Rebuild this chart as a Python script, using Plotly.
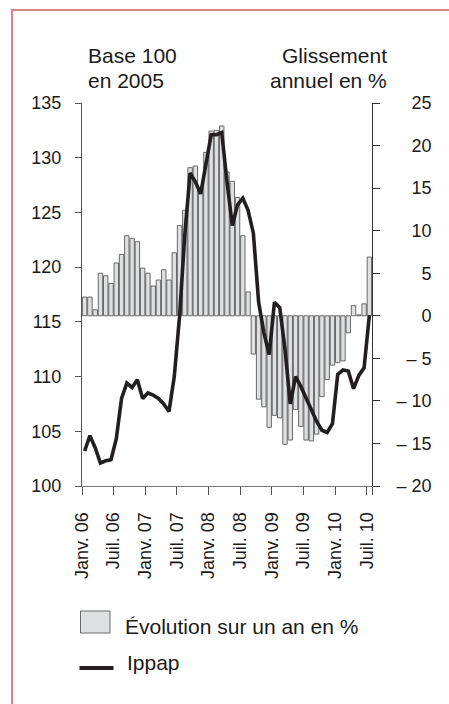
import plotly.graph_objects as go

# ---- data (monthly, Janv. 2006 -> Juil. 2010) ----
evolution = [2.2, 2.2, 0.7, 5.0, 4.7, 3.8, 6.2, 7.2, 9.4, 9.1, 8.7, 5.6,
             5.0, 3.5, 4.2, 5.4, 4.2, 7.4, 10.6, 12.4, 17.4, 17.6, 14.5, 19.2,
             21.7, 21.8, 22.3, 16.9, 15.8, 13.9, 9.4, 2.8, -4.5, -9.8, -10.7, -13.1,
             -11.7, -12.0, -15.1, -14.6, -11.0, -13.0, -14.6, -14.7, -13.9, -9.5, -7.5, -5.8,
             -5.5, -5.3, -2.0, 1.2, 0.1, 1.4, 6.9]
ippap = [103.2, 104.6, 103.5, 102.1, 102.3, 102.4, 104.3, 108.0, 109.4, 109.0, 109.7, 108.0,
         108.5, 108.3, 108.0, 107.5, 106.8, 110.0, 115.5, 123.0, 128.6, 127.8, 126.7, 129.4,
         132.1, 132.1, 132.3, 127.8, 123.8, 125.7, 126.3, 125.2, 123.1, 116.8, 114.0, 112.0,
         116.8, 116.3, 112.5, 107.5, 110.0, 109.1, 108.0, 106.9, 105.9, 105.1, 104.9, 105.7,
         110.2, 110.6, 110.5, 108.9, 110.1, 110.8, 115.6]
tick_labels = ["Janv. 06", "Juil. 06", "Janv. 07", "Juil. 07", "Janv. 08",
               "Juil. 08", "Janv. 09", "Juil. 09", "Janv. 10", "Juil. 10"]
left_ticks = [100, 105, 110, 115, 120, 125, 130, 135]
right_ticks = [-20, -15, -10, -5, 0, 5, 10, 15, 20, 25]
right_labels = ["\u2013 20", "\u2013 15", "\u2013 10", "\u2007\u2013 5",
                "\u2007\u00a0\u20070", "\u2007\u00a0\u20075",
                "\u2007\u00a010", "\u2007\u00a015", "\u2007\u00a020", "\u2007\u00a025"]
series_names = ["\u00c9volution sur un an en %", "Ippap"]

n = len(evolution)
xpos = [i + 0.5 for i in range(n)]

FONT = "Liberation Sans, Arial, sans-serif"
W, H = 449, 704
L, R, T, B = 82, 77, 103, 218
PW, PH = W - L - R, H - T - B


def px(xp):
    return (xp - L) / PW


def py(yp):
    return (H - B - yp) / PH


fig = go.Figure()
fig.add_trace(go.Bar(x=xpos, y=evolution, yaxis="y", width=0.84,
                     marker=dict(color="#dfe0e2", line=dict(color="#5a5a5a", width=0.9)),
                     name=series_names[0], showlegend=False))
fig.add_trace(go.Scatter(x=xpos, y=ippap, yaxis="y2", mode="lines",
                         line=dict(color="#231f20", width=3.6),
                         name=series_names[1], showlegend=False))

axis_font = dict(family=FONT, size=18, color="#1a1a1a")
fig.update_layout(
    width=W, height=H,
    margin=dict(l=L, r=R, t=T, b=B, pad=0),
    paper_bgcolor="white", plot_bgcolor="white",
    font=dict(family=FONT, color="#1a1a1a"),
    xaxis=dict(range=[0, n], tickmode="array",
               tickvals=[0, 6, 12, 18, 24, 30, 36, 42, 48, 54, 55],
               ticktext=tick_labels + [""], tickangle=-90,
               ticks="outside", ticklen=8, tickcolor="#555", tickwidth=1,
               showline=True, linecolor="#777", linewidth=1,
               showgrid=False, zeroline=False, tickfont=axis_font,
               ticklabelstandoff=10),
    # right axis: yearly change (bars)
    yaxis=dict(range=[-20, 25], side="right", tickmode="array",
               tickvals=right_ticks, ticktext=right_labels,
               ticks="outside", ticklen=7, tickcolor="#333",
               showline=True, linecolor="#333", linewidth=1,
               showgrid=False, zeroline=False, tickfont=axis_font,
               ticklabelstandoff=13),
    # left axis: index base 100 (line)
    yaxis2=dict(range=[100, 135], overlaying="y", side="left", tickmode="array",
                tickvals=left_ticks,
                ticks="outside", ticklen=6, tickcolor="#555",
                showline=True, linecolor="#555", linewidth=1,
                showgrid=False, zeroline=False, tickfont=axis_font,
                ticklabelstandoff=10),
    bargap=0.15,
)

title_font = dict(family=FONT, size=21, color="#1a1a1a")
ann = [
    dict(text="Base 100", x=px(86), y=py(56), xanchor="left", yanchor="middle"),
    dict(text="en 2005", x=px(86), y=py(80), xanchor="left", yanchor="middle"),
    dict(text="Glissement", x=px(389), y=py(56), xanchor="right", yanchor="middle"),
    dict(text="annuel en %", x=px(389), y=py(80), xanchor="right", yanchor="middle"),
    dict(text=series_names[0], x=px(123), y=py(626), xanchor="left", yanchor="middle"),
    dict(text=series_names[1], x=px(125), y=py(662), xanchor="left", yanchor="middle"),
]
for a in ann:
    fig.add_annotation(xref="paper", yref="paper", showarrow=False, font=title_font, **a)

# legend swatches
fig.add_shape(type="rect", xref="paper", yref="paper",
              x0=px(80.5), x1=px(110), y0=py(633), y1=py(611),
              fillcolor="#dfe0e2", line=dict(color="#6a6a6a", width=1))
fig.add_shape(type="line", xref="paper", yref="paper",
              x0=px(79.5), x1=px(113.5), y0=py(668), y1=py(668),
              line=dict(color="#231f20", width=4))
# frame
fig.add_shape(type="rect", xref="paper", yref="paper",
              x0=px(12), x1=px(470), y0=py(730), y1=py(10),
              fillcolor="rgba(0,0,0,0)", line=dict(color="#d98585", width=2), layer="below")

fig.write_html("out.html",
               config={"displayModeBar": False},
               post_script="document.body.style.margin='0';"
                           "document.body.style.overflow='hidden';")
